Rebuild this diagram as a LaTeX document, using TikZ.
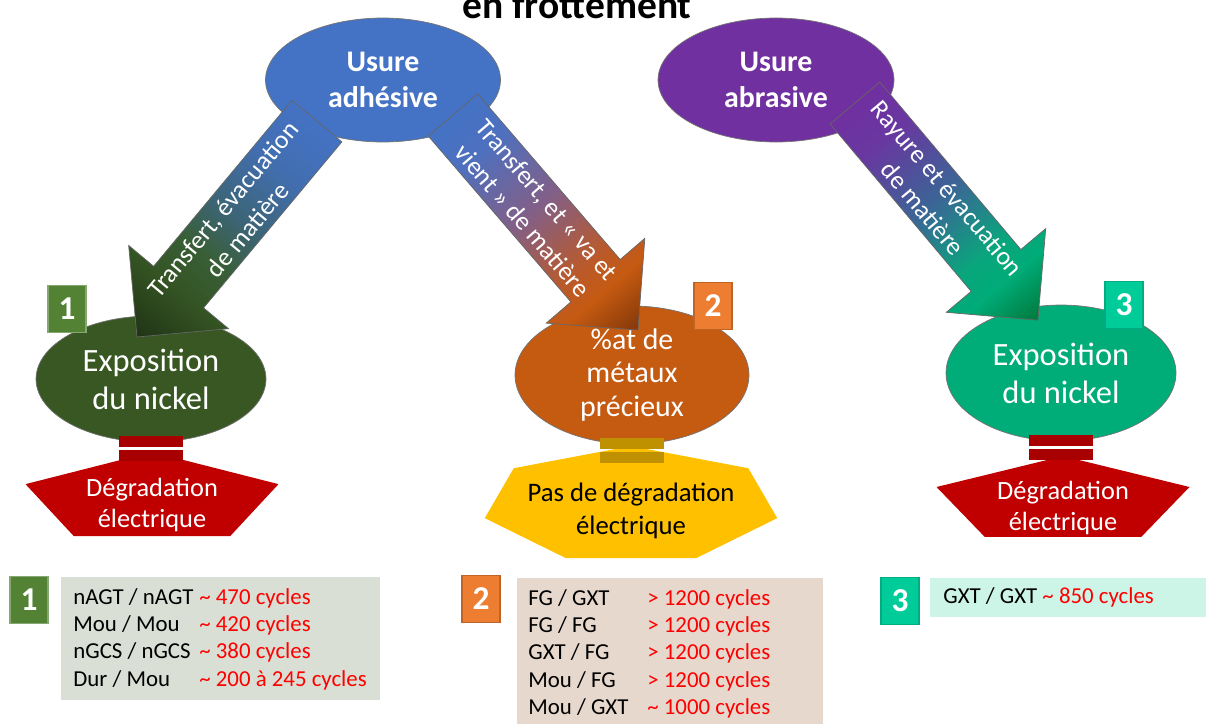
\documentclass[tikz,border=0pt]{standalone}
\usepackage{fontspec}
\setmainfont{Carlito}
\usepackage{array}
\usetikzlibrary{calc, shapes.geometric}

\definecolor{adhBlue}{RGB}{68,114,196}
\definecolor{abrPurple}{RGB}{112,48,160}
\definecolor{nickGreen}{RGB}{56,87,35}
\definecolor{metOrange}{RGB}{197,90,17}
\definecolor{nickTeal}{RGB}{0,172,120}
\definecolor{degRed}{RGB}{192,0,0}
\definecolor{barRed}{RGB}{168,0,0}
\definecolor{okYellow}{RGB}{255,192,0}
\definecolor{barGold}{RGB}{191,144,0}
\definecolor{numGreen}{RGB}{84,130,53}
\definecolor{numOrange}{RGB}{237,125,49}
\definecolor{numTeal}{RGB}{0,204,153}
\definecolor{boxGrey}{RGB}{217,223,213}
\definecolor{boxBeige}{RGB}{231,216,206}
\definecolor{boxMint}{RGB}{204,245,232}
\definecolor{cycRed}{RGB}{255,0,0}

% gradient stops of the three block arrows
\definecolor{gL1}{RGB}{33,52,22}
\definecolor{gL2}{RGB}{52,84,35}
\definecolor{gL3}{RGB}{57,95,55}
\definecolor{gL4}{RGB}{60,100,115}
\definecolor{gL5}{RGB}{66,110,175}
\definecolor{gM1}{RGB}{78,112,190}
\definecolor{gM2}{RGB}{130,95,135}
\definecolor{gM3}{RGB}{185,90,45}
\definecolor{gM4}{RGB}{130,55,10}
\definecolor{gR1}{RGB}{105,55,160}
\definecolor{gR2}{RGB}{60,100,150}
\definecolor{gR3}{RGB}{10,165,125}
\definecolor{gR4}{RGB}{0,120,60}

\pgfdeclarehorizontalshading{shadeLeft}{100bp}{color(0bp)=(gL1); color(25bp)=(gL1);
  color(36bp)=(gL2); color(44bp)=(gL3); color(52bp)=(gL4); color(64bp)=(gL5);
  color(75bp)=(adhBlue); color(100bp)=(adhBlue)}
\pgfdeclarehorizontalshading{shadeMid}{100bp}{color(0bp)=(adhBlue); color(25bp)=(adhBlue);
  color(33bp)=(gM1); color(47bp)=(gM2); color(60bp)=(gM3); color(66bp)=(metOrange);
  color(75bp)=(gM4); color(100bp)=(gM4)}
\pgfdeclarehorizontalshading{shadeRight}{100bp}{color(0bp)=(abrPurple); color(25bp)=(abrPurple);
  color(33bp)=(gR1); color(47bp)=(gR2); color(60bp)=(gR3); color(66bp)=(nickTeal);
  color(75bp)=(gR4); color(100bp)=(gR4)}

\begin{document}
\begin{tikzpicture}[
    x=0.02cm, y=-0.02cm,
    every node/.style={inner sep=0pt},
    wear/.style={ellipse, draw=black!55, line width=0.4pt, text=white, align=center,
        font=\bfseries\fontsize{17}{20.5}\selectfont},
    result/.style={ellipse, draw=black!55, line width=0.4pt, text=white, align=center,
        font=\fontsize{18.5}{21.5}\selectfont},
    arrow edge/.style={draw=black!60, line width=0.4pt},
    arrow text/.style={text=white, align=center, font=\fontsize{14.7}{18.1}\selectfont},
    shape text/.style={align=center, font=\fontsize{15}{18}\selectfont},
    num box/.style={minimum width=0.76cm, minimum height=0.94cm, text=white,
        font=\bfseries\fontsize{19}{22}\selectfont, line width=0.6pt},
    cycle table/.style={anchor=base west, font=\fontsize{13}{15.6}\selectfont}
]
    \useasboundingbox (0,0) rectangle (1206,724);

    % Sizes of the block arrows
    \def\sw{32.5} % half width of the shaft
    \def\hw{65}   % half width of the head
    \def\hd{65}   % length of the head

    % Title (cut by the top edge)
    \node[font=\bfseries\fontsize{22.5}{24}\selectfont, anchor=base] (title) at (577,18) {en frottement};

    % Wear modes
    \node[wear, fill=adhBlue, minimum width=4.7cm, minimum height=2.48cm] (adh) at (383,80) {Usure\\adhésive};
    \node[wear, fill=abrPurple, minimum width=4.72cm, minimum height=2.48cm] (abr) at (776,80) {Usure\\abrasive};

    % Consequences
    \node[result, fill=nickGreen, minimum width=4.6cm, minimum height=2.52cm] (nickL) at (151,379) {Exposition\\du nickel};
    \node[result, fill=metOrange, minimum width=4.68cm, minimum height=2.76cm,
        font=\fontsize{17}{19.3}\selectfont] (metaux) at (632,375) {\%at de\\métaux\\précieux};
    \node[result, fill=nickTeal, minimum width=4.6cm, minimum height=2.72cm] (nickR) at (1061,373) {Exposition\\du nickel};

    % Electrical outcome (pentagons and heptagon)
    \coordinate (pentL) at (152,498.5);
    \coordinate (pentR) at (1063,500.8);
    \coordinate (heptM) at (631,505);
    \fill[degRed] ($(pentL)+(270:133 and 46.5)$) \foreach \k in {1,...,4} {-- ($(pentL)+(270+72*\k:133 and 46.5)$)} -- cycle;
    \fill[degRed] ($(pentR)+(270:133 and 44.7)$) \foreach \k in {1,...,4} {-- ($(pentR)+(270+72*\k:133 and 44.7)$)} -- cycle;
    \fill[okYellow] ($(heptM)+(270:150 and 59)$) \foreach \k in {1,...,6} {-- ($(heptM)+(270+51.4286*\k:150 and 59)$)} -- cycle;
    \node[shape text, text=white] (degL) at (152,505) {Dégradation\\électrique};
    \node[shape text, text=white] (degR) at (1063,508) {Dégradation\\électrique};
    \node[shape text, font=\fontsize{15.2}{18.5}\selectfont] (okM) at (631,511) {Pas de dégradation\\électrique};

    % Double bars under the ellipses
    \foreach \dy in {-6,8} {
        \fill[barRed] ([shift={(-32,\dy)}]nickL.south) rectangle ++(64,10.5);
        \fill[barGold] ([shift={(-32,\dy)}]metaux.south) rectangle ++(64,10.5);
        \fill[barRed] ([shift={(-32,\dy)}]nickR.south) rectangle ++(64,10.5);
    }

    % Block arrows (own frame, so the gradient runs along the arrow)
    \coordinate (tipL) at (137,337);
    \coordinate (tailM) at (453,115);
    \coordinate (tailR) at (855,103);
    \begin{scope}[transform canvas={shift={(tipL)}, rotate=50.2}]
        \shadedraw[arrow edge, shading=shadeLeft]
            (0,0) -- (\hd,-\hw) -- (\hd,-\sw) -- (281,-\sw) -- (281,\sw) -- (\hd,\sw) -- (\hd,\hw) -- cycle;
        \node[arrow text] (txtL) at (153,0) {Transfert, évacuation\\de matière};
    \end{scope}
    \begin{scope}[transform canvas={shift={(tailM)}, rotate=-49.3}]
        \shadedraw[arrow edge, shading=shadeMid]
            (0,-\sw) -- (218.6,-\sw) -- (218.6,-\hw) -- (283.6,0) -- (218.6,\hw) -- (218.6,\sw) -- (0,\sw) -- cycle;
        \node[arrow text] (txtM) at (125.6,0) {Transfert, et « va et\\vient » de matière};
    \end{scope}
    \begin{scope}[transform canvas={shift={(tailR)}, rotate=-49.9}]
        \shadedraw[arrow edge, shading=shadeRight]
            (0,-\sw) -- (218.9,-\sw) -- (218.9,-\hw) -- (283.9,0) -- (218.9,\hw) -- (218.9,\sw) -- (0,\sw) -- cycle;
        \node[arrow text] (txtR) at (124.5,0) {Rayure et évacuation\\de matière};
    \end{scope}

    % Number tags
    \node[num box, fill=numGreen, draw=numGreen!70!white] (n1) at (67,309) {1};
    \node[num box, fill=numOrange, draw=numOrange!80!black] (n2) at (713,306) {2};
    \node[num box, fill=numTeal, draw=numTeal!85!black] (n3) at (1124,305) {3};
    \node[num box, fill=numGreen, draw=numGreen!70!white] (b1) at (29,600) {1};
    \node[num box, fill=numOrange, draw=numOrange!80!black] (b2) at (481,599) {2};
    \node[num box, fill=numTeal, draw=numTeal!85!black] (b3) at (900,601) {3};

    % Cycle tables
    \fill[boxGrey] (61,577) rectangle (380,700);
    \fill[boxBeige] (517,578) rectangle (823,724);
    \fill[boxMint] (930,578) rectangle (1206,617);
    \node[cycle table] (tab1) at (73,604) {\begin{tabular}[t]{@{}p{2.52cm}@{}>{\color{cycRed}}l@{}}
        nAGT / nAGT & \textasciitilde{} 470 cycles\\
        Mou / Mou & \textasciitilde{} 420 cycles\\
        nGCS / nGCS & \textasciitilde{} 380 cycles\\
        Dur / Mou & \textasciitilde{} 200 à 245 cycles
    \end{tabular}};
    \node[cycle table] (tab2) at (528,605) {\begin{tabular}[t]{@{}p{2.38cm}@{}>{\color{cycRed}}l@{}}
        FG / GXT & > 1200 cycles\\
        FG / FG & > 1200 cycles\\
        GXT / FG & > 1200 cycles\\
        Mou / FG & > 1200 cycles\\
        Mou / GXT & \textasciitilde{} 1000 cycles
    \end{tabular}};
    \node[cycle table] (tab3) at (943,603) {GXT / GXT \textcolor{cycRed}{\textasciitilde{} 850 cycles}};

\end{tikzpicture}
\end{document}
